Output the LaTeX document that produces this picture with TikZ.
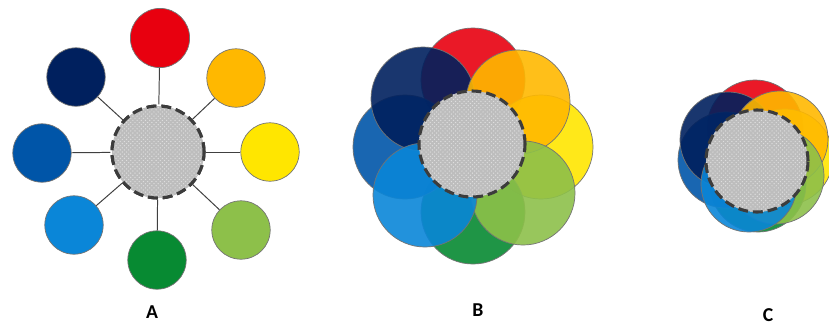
\documentclass[tikz,border=0pt]{standalone}
\usepackage{fontspec}
\setsansfont{Carlito}
\usepackage{xcolor}
\usepackage{tikz}
\usetikzlibrary{patterns}
\definecolor{petalred}{HTML}{E8000F}
\definecolor{petalorange}{HTML}{FFB800}
\definecolor{petalyellow}{HTML}{FFE600}
\definecolor{petallime}{HTML}{8DC04A}
\definecolor{petalgreen}{HTML}{078A32}
\definecolor{petalsky}{HTML}{0A86D8}
\definecolor{petalblue}{HTML}{0055A8}
\definecolor{petalnavy}{HTML}{00205E}
\definecolor{hubgray}{HTML}{BDBDBD}
\definecolor{hubdot}{HTML}{DEDEDE}
\definecolor{hubline}{HTML}{3C3C3C}

\tikzset{
  petal/.style={circle, draw=black!55, line width=0.5pt, fill=#1, inner sep=0pt},
  hub/.style={circle, preaction={fill=hubgray}, pattern=crosshatch dots, pattern color=hubdot,
    draw=hubline, line width=2.2pt, dash pattern=on 7pt off 3.5pt, inner sep=0pt},
  spoke/.style={draw=black!75, line width=0.7pt},
  panel/.style={font=\sffamily\bfseries\fontsize{14}{16}\selectfont}
}

\begin{document}
\begin{tikzpicture}[x=0.025cm, y=-0.025cm]
  \useasboundingbox (0,0) rectangle (829,325);

  % A: separate circles joined to the hub
  \node[hub, minimum size=2.3cm] (hubA) at (158,152) {};
  \node[petal=petalred,    minimum size=1.48cm] (redA)    at (160,38) {};
  \node[petal=petalorange, minimum size=1.46cm] (orangeA) at (236,78) {};
  \node[petal=petalyellow, minimum size=1.46cm] (yellowA) at (270,152) {};
  \node[petal=petallime,   minimum size=1.46cm] (limeA)   at (241,230) {};
  \node[petal=petalgreen,  minimum size=1.46cm] (greenA)  at (157,260) {};
  \node[petal=petalsky,    minimum size=1.46cm] (skyA)    at (74,225) {};
  \node[petal=petalblue,   minimum size=1.46cm] (blueA)   at (42,153) {};
  \node[petal=petalnavy,   minimum size=1.46cm] (navyA)   at (76,77) {};
  \draw[spoke] (hubA) -- (redA);
  \draw[spoke] (hubA) -- (orangeA);
  \draw[spoke] (hubA) -- (yellowA);
  \draw[spoke] (hubA) -- (limeA);
  \draw[spoke] (hubA) -- (greenA);
  \draw[spoke] (hubA) -- (skyA);
  \draw[spoke] (hubA) -- (blueA);
  \draw[spoke] (hubA) -- (navyA);
  \node[hub, minimum size=2.3cm] at (hubA) {};
  \node[panel] (labelA) at (152,312) {A};

  % B: circles overlapping round the hub
  \begin{scope}[fill opacity=0.9]
    \node[petal=petalred,    minimum size=2.6cm] (redB)    at (473,80) {};
    \node[petal=petalyellow, minimum size=2.6cm] (yellowB) at (541,147) {};
    \node[petal=petalgreen,  minimum size=2.6cm] (greenB)  at (473,212) {};
    \node[petal=petalblue,   minimum size=2.6cm] (blueB)   at (405,147) {};
    \node[petal=petalnavy,   minimum size=2.6cm] (navyB)   at (423,99) {};
    \node[petal=petalorange, minimum size=2.6cm] (orangeB) at (518,102) {};
    \node[petal=petallime,   minimum size=2.6cm] (limeB)   at (523,193) {};
    \node[petal=petalsky,    minimum size=2.6cm] (skyB)    at (425,195) {};
  \end{scope}
  \node[hub, minimum size=2.65cm] (hubB) at (472,144) {};
  \node[panel] (labelB) at (478,310) {B};

  % C: circles pulled in tight
  \begin{scope}[fill opacity=0.9]
    \node[petal=petalred,    minimum size=2.4cm] (redC)    at (755,128) {};
    \node[petal=petalyellow, minimum size=2.4cm] (yellowC) at (785,157) {};
    \node[petal=petalgreen,  minimum size=2.4cm] (greenC)  at (758,184) {};
    \node[petal=petalblue,   minimum size=2.4cm] (blueC)   at (726,160) {};
    \node[petal=petalnavy,   minimum size=2.4cm] (navyC)   at (728,140) {};
    \node[petal=petalorange, minimum size=2.4cm] (orangeC) at (780,139) {};
    \node[petal=petallime,   minimum size=2.4cm] (limeC)   at (776,176) {};
    \node[petal=petalsky,    minimum size=2.4cm] (skyC)    at (749,184) {};
  \end{scope}
  \node[hub, minimum size=2.55cm] (hubC) at (757,161) {};
  \node[panel] (labelC) at (768,315) {C};
\end{tikzpicture}
\end{document}
